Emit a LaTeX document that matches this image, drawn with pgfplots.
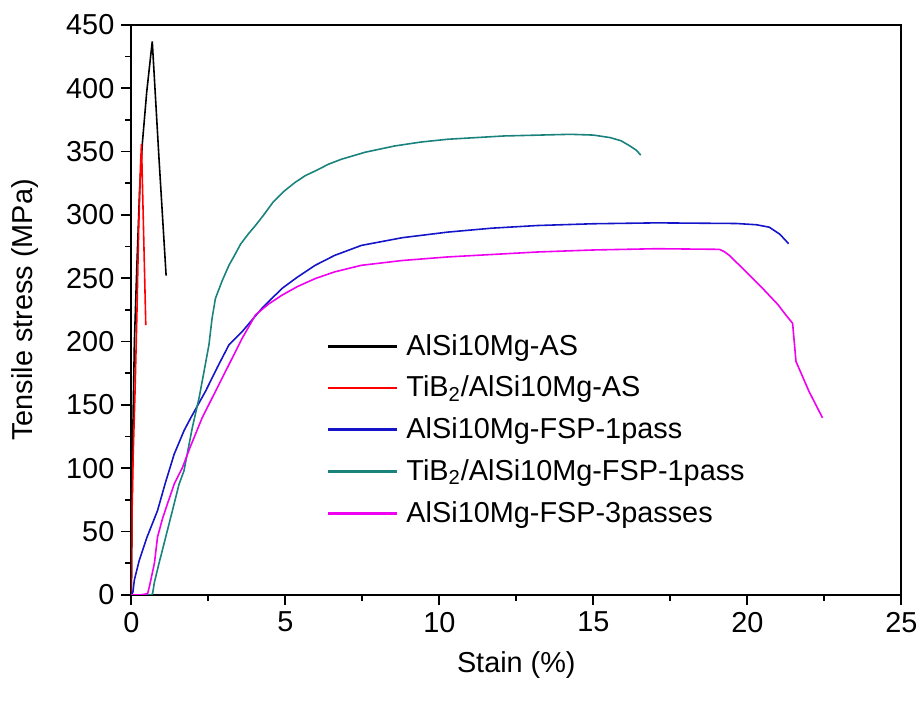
\documentclass[border=0pt]{standalone}
\usepackage{pgfplots}
\pgfplotsset{compat=1.18}
\usepackage{fontspec}
\setmainfont{Liberation Sans}
\definecolor{cblue}{RGB}{20,20,200}
\definecolor{cteal}{RGB}{25,130,125}
\definecolor{cmag}{RGB}{240,0,240}
\definecolor{cred}{RGB}{255,0,0}
\begin{document}
\begin{tikzpicture}
\begin{axis}[
  scale only axis,
  width=387pt, height=286.5pt,
  xmin=0, xmax=25, ymin=0, ymax=450,
  xtick={0,5,...,25}, ytick={0,50,...,450},
  minor x tick num=1, minor y tick num=1,
  xtick pos=bottom, ytick pos=left,
  tick align=outside,
  major tick length=5pt, minor tick length=3pt,
  axis line style={line width=1pt},
  every tick/.style={line width=0.9pt, black},
  /pgf/number format/assume math mode=true,
  font=\fontsize{14.5}{17}\selectfont,
  ticklabel style={font=\fontsize{14.5}{17}\selectfont},
  xlabel={Stain (\%)},
  ylabel={Tensile stress (MPa)},
  xlabel style={yshift=-3pt},
  ylabel style={yshift=7pt},
  legend style={draw=none, fill=none, at={(0.255,0.465)}, anchor=north west,
    font=\fontsize{14.5}{17}\selectfont, row sep=5pt, inner sep=0pt,
    nodes={inner xsep=3pt}},
  legend cell align=left,
]
\addlegendimage{color=black, legend image code/.code={\fill[black] (0pt,-0.45pt) rectangle (34pt,0.45pt);}}
\addlegendentry{\hspace{2pt}AlSi10Mg-AS}
\addlegendimage{color=cred, legend image code/.code={\fill[cred] (0pt,-0.45pt) rectangle (34pt,0.45pt);}}
\addlegendentry{\hspace{2pt}TiB\textsubscript{2}/AlSi10Mg-AS}
\addlegendimage{color=cblue, legend image code/.code={\fill[cblue] (0pt,-0.45pt) rectangle (34pt,0.45pt);}}
\addlegendentry{\hspace{2pt}AlSi10Mg-FSP-1pass}
\addlegendimage{color=cteal, legend image code/.code={\fill[cteal] (0pt,-0.45pt) rectangle (34pt,0.45pt);}}
\addlegendentry{\hspace{2pt}TiB\textsubscript{2}/AlSi10Mg-FSP-1pass}
\addlegendimage{color=cmag, legend image code/.code={\fill[cmag] (0pt,-0.45pt) rectangle (34pt,0.45pt);}}
\addlegendentry{\hspace{2pt}AlSi10Mg-FSP-3passes}
\addplot[color=black, line width=0.8pt, forget plot] coordinates {
(0,0) (0.02,60) (0.05,130) (0.1,200) (0.18,260) (0.27,320) (0.36,357) (0.5,397) (0.68,437) (0.9,344) (1.13,252)
};
\addplot[color=cred, line width=0.8pt, forget plot] coordinates {
(0,0) (0.02,60) (0.06,110) (0.12,160) (0.18,220) (0.24,290) (0.3,340) (0.33,356) (0.4,285) (0.47,213)
};
\addplot[color=cblue, line width=0.8pt, forget plot] coordinates {
(0,0) (0.05,2) (0.1,12) (0.26,27.5) (0.5,45) (0.85,66.5) (1.1,88) (1.39,111) (1.71,129.6) (1.93,139.8) (2.41,160.8) (2.8,180) (3.17,197.4) (3.6,207.9) (4.24,226.2) (4.89,241.9) (5.4,251) (5.97,260.2) (6.6,268) (7.47,275.9) (8.8,282) (10.27,286.4) (11.7,289.5) (13.18,291.6) (15,293) (17.05,293.7) (19.64,293.2) (20.3,292.2) (20.71,290.3) (21.04,285) (21.2,281) (21.34,277.2)
};
\addplot[color=cteal, line width=0.8pt, forget plot] coordinates {
(0,0) (0.3,0) (0.65,0) (0.69,1) (0.75,10) (0.9,25) (1.17,50.8) (1.35,68) (1.55,87.4) (1.71,98) (1.98,132) (2.2,155.5) (2.35,175) (2.52,197.4) (2.62,218) (2.73,234) (2.95,248) (3.17,260.2) (3.35,268) (3.55,277) (3.8,285) (4.03,291.6) (4.3,300) (4.6,310) (4.95,318.5) (5.32,325.7) (5.65,331) (6,335) (6.4,340) (6.83,344) (7.6,349.5) (8.55,354.4) (9.4,357.5) (10.27,359.7) (12.1,362.3) (14.25,363.6) (15.0,363) (15.55,361) (15.9,358.5) (16.19,354.4) (16.4,351) (16.54,347.1)
};
\addplot[color=cmag, line width=0.8pt, forget plot] coordinates {
(0,0) (0.3,0) (0.53,1) (0.6,8) (0.75,25) (0.85,45.6) (1.01,60) (1.17,71.7) (1.4,88) (1.66,100.5) (1.9,116) (2.3,139.8) (2.95,171.2) (3.6,202.6) (4.03,221) (4.45,229.5) (4.89,236.6) (5.4,243.5) (5.97,249.7) (6.6,255) (7.47,260.2) (8.8,264) (10.27,266.8) (13.18,270.7) (15,272.3) (17.05,273.3) (19.1,272.8) (19.25,271) (19.42,268) (19.96,255) (20.5,241.9) (21.0,229) (21.25,221) (21.47,214.4) (21.58,184.3) (22.0,160.8) (22.44,139.8)
};
\end{axis}
\path[use as bounding box] ([shift={(-66pt,-54pt)}]current axis.south west) rectangle ([shift={(396pt,299pt)}]current axis.south west);
\end{tikzpicture}
\end{document}
